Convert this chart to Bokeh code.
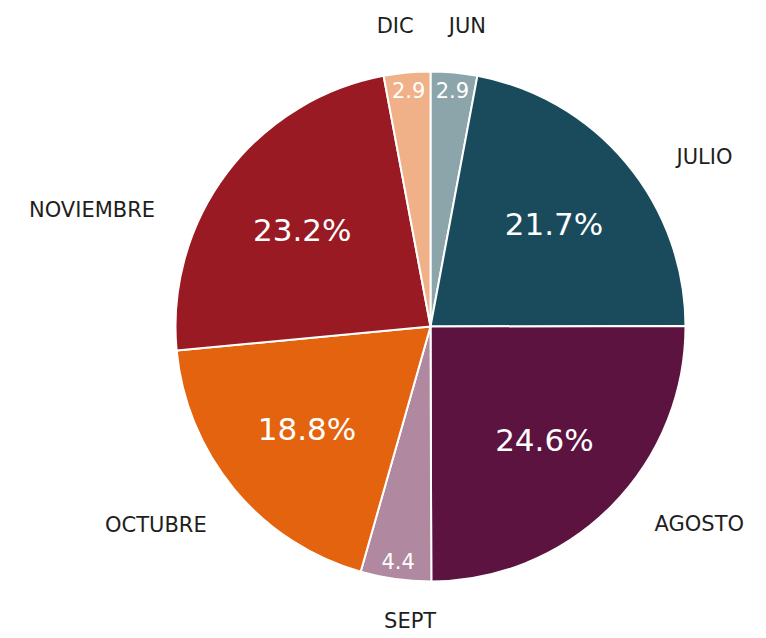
import math
from bokeh.plotting import figure
from bokeh.models import Range1d, ColumnDataSource
from bokeh.core.properties import value
from bokeh.embed import file_html
from bokeh.resources import INLINE

# ---- data ----
months = ["JUN", "JULIO", "AGOSTO", "SEPT", "OCTUBRE", "NOVIEMBRE", "DIC"]
shares = [2.9, 21.7, 24.6, 4.4, 18.8, 23.2, 2.9]
colors = ["#8ca5ab", "#1a4b5c", "#5c1340", "#b0889f", "#e3630f", "#991a23", "#f0b188"]

# ---- layout ----
W, H = 766, 638
CX, CY = 430, H - 326
R = 255
label_angle_adjust = [1.7, 5.1, -3.4, -3.9, -1.8, -14.1, -1.4]  # degrees, outer label placement

total = sum(shares)
starts, ends, mids = [], [], []
cum = 0.0
for v in shares:
    f0 = cum / total
    cum += v
    f1 = cum / total
    starts.append(math.pi / 2 - 2 * math.pi * f0)
    ends.append(math.pi / 2 - 2 * math.pi * f1)
    mids.append(2 * math.pi * (f0 + f1) / 2)  # clockwise from top

p = figure(width=W, height=H, x_range=Range1d(0, W), y_range=Range1d(0, H),
           output_backend="svg", toolbar_location=None, min_border=0)
p.axis.visible = False
p.grid.visible = False
p.outline_line_color = None
p.background_fill_color = "white"

src = ColumnDataSource(dict(start=starts, end=ends, color=colors))
p.wedge(x=CX, y=CY, radius=R, start_angle="start", end_angle="end", direction="clock",
        fill_color="color", line_color="white", line_width=2, source=src)

# inner value labels
big_x, big_y, big_t = [], [], []
sm_x, sm_y, sm_t = [], [], []
for v, th in zip(shares, mids):
    if v / total < 0.06:
        rr = 0.93 * R
        sm_x.append(CX + rr * math.sin(th)); sm_y.append(CY + rr * math.cos(th)); sm_t.append(f"{v:.1f}")
    else:
        rr = 0.63 * R
        big_x.append(CX + rr * math.sin(th)); big_y.append(CY + rr * math.cos(th)); big_t.append(f"{v:.1f}%")

p.text(x=big_x, y=big_y, text=big_t, text_color="white", text_font=value("DejaVu Sans"),
       text_font_size="31px", text_align="center", text_baseline="middle")
p.text(x=sm_x, y=sm_y, text=sm_t, text_color="white", text_font=value("DejaVu Sans"),
       text_font_size="21px", text_align="center", text_baseline="middle")

# outer category labels
RL = 299
for name, th, adj in zip(months, mids, label_angle_adjust):
    a = th + math.radians(adj)
    s = math.sin(a)
    c = math.cos(a)
    if abs(s) < 0.2:
        rl = RL + 4 if c > 0 else RL - 4
    else:
        rl = RL
    x = CX + rl * s
    y = CY + rl * c
    align = "center" if abs(s) < 0.2 else ("left" if s > 0 else "right")
    p.text(x=[x], y=[y], text=[name], text_color="#1e1e1e", text_font=value("DejaVu Sans"),
           text_font_size="21px", text_align=align, text_baseline="middle")

open("out.html", "w").write(file_html(p, INLINE))
